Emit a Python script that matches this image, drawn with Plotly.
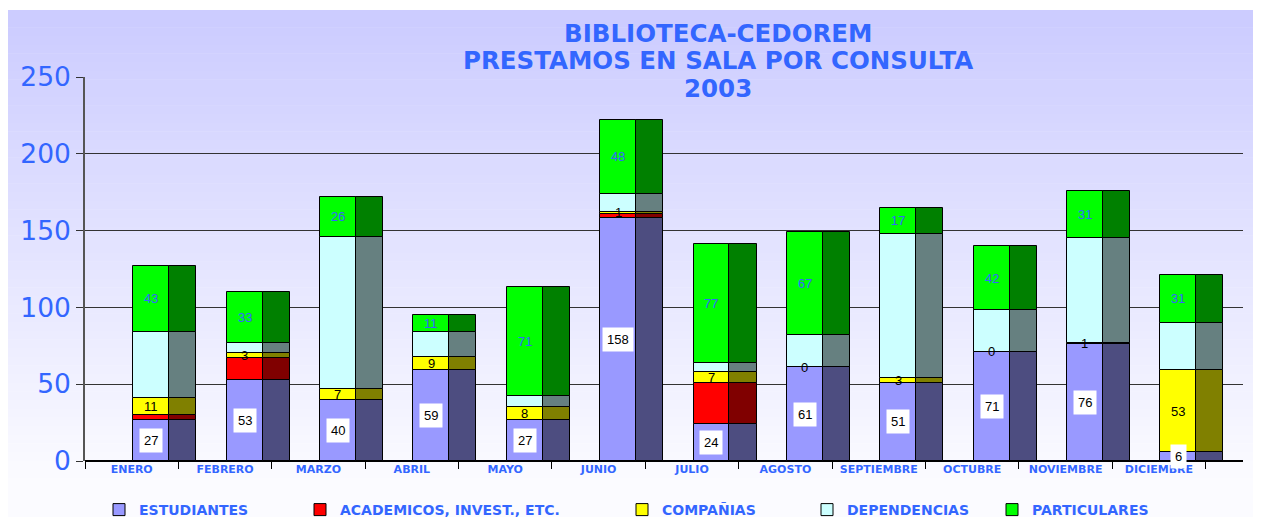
import plotly.graph_objects as go

months = ["ENERO", "FEBRERO", "MARZO", "ABRIL", "MAYO", "JUNIO", "JULIO",
          "AGOSTO", "SEPTIEMBRE", "OCTUBRE", "NOVIEMBRE", "DICIEMBRE"]
estudiantes = [27, 53, 40, 59, 27, 158, 24, 61, 51, 71, 76, 6]
academicos = [3, 14, 0, 0, 0, 3, 27, 0, 0, 0, 0, 0]
companias = [11, 3, 7, 9, 8, 1, 7, 0, 3, 0, 1, 53]
dependencias = [43, 7, 99, 16, 7, 12, 6, 21, 94, 27, 68, 31]
particulares = [43, 33, 26, 11, 71, 48, 77, 67, 17, 42, 31, 31]
series_names = ["ESTUDIANTES", "ACADEMICOS, INVEST., ETC.", "COMPAÑIAS",
                "DEPENDENCIAS", "PARTICULARES"]
title_lines = ["BIBLIOTECA-CEDOREM", "PRESTAMOS EN SALA POR CONSULTA", "2003"]
y_ticks = [0, 50, 100, 150, 200, 250]

series = [estudiantes, academicos, companias, dependencias, particulares]
front_colors = ["#9999FF", "#FF0000", "#FFFF00", "#CCFFFF", "#00FF00"]
side_colors = ["#4D4D80", "#800000", "#808000", "#668080", "#008000"]

VW, VH = 1261, 517
OFF = 8  # page body margin offset
W, H = VW - OFF, VH - OFF
# target plot area in screen pixels
PL, PR, PT, PB = 85, 1243, 77, 461
ML = PL - OFF
MT = PT - OFF
MR = W - (PR - OFF)
MB = H - (PB - OFF)
PW = PR - PL
PH = PB - PT
BLUE = "#3366FF"


def px_to_paper_x(p):
    return (p - PL) / PW


def px_to_paper_y(p):
    return (PB - p) / PH


fig = go.Figure()

# cumulative bases
bases = []
cum = [0] * len(months)
for vals in series:
    bases.append(list(cum))
    cum = [c + v for c, v in zip(cum, vals)]

legend_ids = ["legend", "legend2", "legend3", "legend4", "legend5"]
for k, vals in enumerate(series):
    fig.add_trace(go.Bar(
        x=months, y=vals, base=bases[k], name=series_names[k],
        offset=0.016, width=0.385,
        marker=dict(color=front_colors[k], line=dict(color="black", width=1)),
        legend=legend_ids[k], showlegend=True, hoverinfo="name+y"))
    fig.add_trace(go.Bar(
        x=months, y=vals, base=bases[k], name=series_names[k],
        offset=0.401, width=0.29,
        marker=dict(color=side_colors[k], line=dict(color="black", width=1)),
        showlegend=False, hoverinfo="skip"))

# value labels
ann = []
cx = 0.208
for i in range(len(months)):
    ann.append(dict(x=i + cx, y=bases[0][i] + estudiantes[i] / 2, xref="x", yref="y",
                    text=str(estudiantes[i]), showarrow=False, bgcolor="white",
                    borderpad=4, font=dict(family="Liberation Sans", size=13, color="black")))
    ann.append(dict(x=i + cx, y=bases[2][i] + companias[i] / 2, xref="x", yref="y",
                    text=str(companias[i]), showarrow=False,
                    font=dict(family="Liberation Sans", size=13, color="black")))
    ann.append(dict(x=i + cx, y=bases[4][i] + particulares[i] / 2, xref="x", yref="y",
                    text=str(particulares[i]), showarrow=False,
                    font=dict(family="Liberation Sans", size=13, color=BLUE)))

# title lines
title_y = [33, 61, 88]
for line, ty in zip(title_lines, title_y):
    ann.append(dict(x=px_to_paper_x(718), y=px_to_paper_y(ty), xref="paper", yref="paper",
                    xanchor="center", yanchor="middle", text=f"<b>{line}</b>",
                    showarrow=False,
                    font=dict(family="DejaVu Sans", size=24.5, color=BLUE)))

# gradient background (paper coordinates)
shapes = []
n = 60
top, bot = 10, 530
for s in range(n):
    y0 = top + (bot - top) * s / n
    y1 = top + (bot - top) * (s + 1) / n
    t = min((y0 - top) / (470 - top), 1.0)
    c = int(204 + (251 - 204) * t)
    shapes.append(dict(type="rect", xref="paper", yref="paper", layer="below",
                       x0=px_to_paper_x(3), x1=px_to_paper_x(VW + 20),
                       y0=px_to_paper_y(y1 + 0.5), y1=px_to_paper_y(y0),
                       fillcolor=f"rgb({c},{c},255)", line=dict(width=0)))

legend_text_x = [137, 338, 660, 845, 1030]
legend_common = dict(orientation="h", xanchor="left", yanchor="middle",
                     y=px_to_paper_y(510), bgcolor="rgba(0,0,0,0)",
                     font=dict(family="DejaVu Sans", size=14, color=BLUE, weight="bold"),
                     itemwidth=30)
layout_legends = {}
for k, lid in enumerate(legend_ids):
    layout_legends[lid] = dict(legend_common, x=px_to_paper_x(legend_text_x[k] - 38))

fig.update_layout(
    width=W, height=H,
    margin=dict(l=ML, r=MR, t=MT, b=MB, autoexpand=False),
    paper_bgcolor="white", plot_bgcolor="rgba(0,0,0,0)",
    barmode="overlay", bargap=0,
    xaxis=dict(type="category", range=[-0.5, 11.9], tickson="boundaries",
               ticks="outside", ticklen=7, tickcolor="black", showgrid=False,
               tickfont=dict(family="DejaVu Sans", size=11, color=BLUE, weight="bold"),
               showline=False, fixedrange=True, automargin=False),
    yaxis=dict(range=[0, 250], tickvals=y_ticks, ticks="outside", ticklen=7,
               tickcolor="#333", showline=True, linecolor="#555", linewidth=1.5,
               gridcolor="#333", gridwidth=1, zeroline=True, zerolinecolor="black",
               zerolinewidth=2, automargin=False,
               tickfont=dict(family="DejaVu Sans", size=26.5, color=BLUE)),
    shapes=shapes, annotations=ann,
    **layout_legends,
)

fig.write_html("out.html")
